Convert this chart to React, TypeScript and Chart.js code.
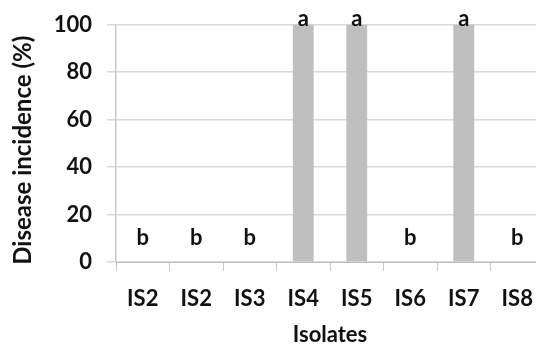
import React, { useEffect, useRef } from "react";
import { Chart, registerables } from "chart.js";

Chart.register(...registerables);

const categories = ["IS2", "IS2", "IS3", "IS4", "IS5", "IS6", "IS7", "IS8"];
const incidence = [0, 0, 0, 100, 100, 0, 100, 0];
const groupLetters = ["b", "b", "b", "a", "a", "b", "a", "b"];
const yTicks = [0, 20, 40, 60, 80, 100];
const yTitle = "Disease incidence (%)";
const xTitle = "Isolates";

const FONT = "Lato";

const letterPlugin = {
  id: "letters",
  afterDatasetsDraw(chart: any) {
    const { ctx } = chart;
    const meta = chart.getDatasetMeta(0);
    const yScale = chart.scales.y;
    ctx.save();
    ctx.fillStyle = "#111";
    ctx.font = `bold 22px ${FONT}`;
    ctx.textAlign = "center";
    ctx.textBaseline = "alphabetic";
    meta.data.forEach((bar: any, i: number) => {
      const v = incidence[i];
      let y;
      if (v > 0) {
        y = bar.y + 1.5;
      } else {
        y = yScale.getPixelForValue(0) - 17;
      }
      ctx.fillText(groupLetters[i], bar.x, y);
    });
    ctx.restore();
  },
};

const yTitlePlugin = {
  id: "yTitle",
  afterDraw(chart: any) {
    const { ctx } = chart;
    const a = chart.chartArea;
    ctx.save();
    ctx.fillStyle = "#111";
    ctx.font = `bold 24px ${FONT}`;
    ctx.textAlign = "center";
    ctx.textBaseline = "middle";
    ctx.translate(23, (a.top + a.bottom) / 2 + 7);
    ctx.rotate(-Math.PI / 2);
    ctx.fillText(yTitle, 0, 0);
    ctx.restore();
  },
};

export default function App() {
  const ref = useRef<HTMLCanvasElement | null>(null);
  useEffect(() => {
    let chart: Chart | null = null;
    let cancelled = false;
    const make = () => {
      if (cancelled || !ref.current) return;
      chart = new Chart(ref.current, {
        type: "bar",
        data: {
          labels: categories,
          datasets: [
            {
              data: incidence,
              backgroundColor: "#bfbfbf",
              borderWidth: 0,
              categoryPercentage: 1,
              barPercentage: 0.39,
            },
          ],
        },
        options: {
          animation: false,
          responsive: true,
          maintainAspectRatio: false,
          layout: { padding: { top: 24.5, right: 0, left: 0, bottom: 0 } },
          plugins: { legend: { display: false }, tooltip: { enabled: false } },
          scales: {
            x: {
              afterFit(scale: any) {
                scale.height = 350 - 262;
                scale.paddingLeft = 0;
                scale.paddingRight = 0;
              },
              grid: {
                display: true,
                drawOnChartArea: false,
                drawTicks: true,
                tickLength: 9,
                color: "#c8c8c8",
                offset: true,
              },
              border: { display: true, color: "#bdbdbd", width: 1 },
              ticks: {
                color: "#111",
                font: { family: FONT, size: 22, weight: "bold" },
                padding: 15,
                maxRotation: 0,
                autoSkip: false,
              },
              title: {
                display: true,
                text: xTitle,
                color: "#111",
                font: { family: FONT, size: 22, weight: "bold" },
                padding: { top: 0, bottom: 2 },
              },
            },
            y: {
              min: 0,
              max: 100,
              afterFit(scale: any) {
                scale.width = 116;
                scale.paddingTop = 0;
                scale.paddingBottom = 0;
              },
              afterBuildTicks(scale: any) {
                scale.ticks = yTicks.map((v) => ({ value: v }));
              },
              grid: {
                color: "#d9d9d9",
                tickLength: 9,
                lineWidth: 1.5,
              },
              border: { display: true, color: "#c8c8c8", width: 1.5 },
              ticks: {
                color: "#111",
                font: { family: FONT, size: 22, weight: "bold" },
                padding: 15,
              },
              title: { display: false },
            },
          },
        },
        plugins: [letterPlugin, yTitlePlugin],
      } as any);
    };
    const fontsReady = (document as any).fonts
      ? Promise.all([
          (document as any).fonts.load(`bold 22px ${FONT}`),
        ]).catch(() => null)
      : Promise.resolve(null);
    fontsReady.then(make);
    return () => {
      cancelled = true;
      if (chart) chart.destroy();
    };
  }, []);

  return (
    <div
      style={{
        position: "fixed",
        left: 0,
        top: 0,
        width: 536,
        height: 347,
        overflow: "hidden",
        background: "#fff",
      }}
    >
      <div style={{ position: "relative", width: 544, height: 350 }}>
        <canvas ref={ref} />
      </div>
    </div>
  );
}
